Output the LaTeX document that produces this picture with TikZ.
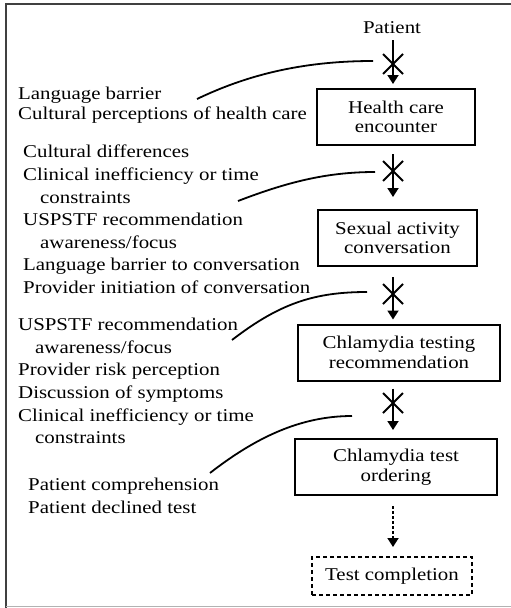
\documentclass[tikz,border=0pt]{standalone}
\usepackage{fontspec}
\setmainfont[FakeStretch=1.16]{Liberation Serif}
\usetikzlibrary{arrows.meta,calc}
\begin{document}
\begin{tikzpicture}[x=1pt,y=-1pt,
  txt/.style={font=\fontsize{18}{19.5}\selectfont},
  box/.style={draw, line width=2pt, align=center, inner sep=0pt, txt},
  lbl/.style={anchor=north west, align=left, inner sep=0pt, font=\fontsize{18}{22.6}\selectfont},
  flow/.style={line width=1.8pt, -{Triangle[length=9pt,width=11pt]}},
  crossline/.style={line width=1.8pt},
  link/.style={line width=1.8pt}]
\useasboundingbox (0,0) rectangle (511,608);
% frame
\draw[line width=1.5pt, black!75] (6,608) -- (6,4) -- (511,4);
\draw[line width=1pt, black!30] (6,606) -- (511,606);

% flow nodes
\node[txt, inner sep=0pt] (patient) at (392,28) {Patient};
\node[box, minimum width=158pt, minimum height=56pt] (b1) at (396,117) {Health care\\encounter};
\node[box, minimum width=159pt, minimum height=56pt] (b2) at (397.5,238) {Sexual activity\\conversation};
\node[box, minimum width=202pt, minimum height=56pt] (b3) at (399,352.5) {Chlamydia testing\\recommendation};
\node[box, minimum width=202pt, minimum height=56pt] (b4) at (396,467) {Chlamydia test\\ordering};
\node[box, dash pattern=on 4pt off 3pt, minimum width=160pt, minimum height=38pt] (b5) at (392,576) {Test completion};

% cross points
\coordinate (x1) at (393,64);
\coordinate (x2) at (393,171);
\coordinate (x3) at (393,294);
\coordinate (x4) at (393,403);

% arrows
\draw[flow, shorten <=6pt, shorten >=4pt] (x1 |- patient.south) -- (x1 |- b1.north);
\draw[flow, shorten <=8pt, shorten >=12pt] (x2 |- b1.south) -- (x2 |- b2.north);
\draw[flow, shorten <=10pt, shorten >=4pt] (x3 |- b2.south) -- (x3 |- b3.north);
\draw[flow, shorten <=7pt, shorten >=8pt] (x4 |- b3.south) -- (x4 |- b4.north);
\draw[flow, dash pattern=on 2.5pt off 2.5pt, shorten <=10pt, shorten >=9pt] (x4 |- b4.south) -- (x4 |- b5.north);

% crosses
\foreach \c in {x1,x2,x3,x4}{
  \draw[crossline] ($(\c)+(-10,-10)$) -- ($(\c)+(10,10)$);
  \draw[crossline] ($(\c)+(10,-10)$) -- ($(\c)+(-10,10)$);
}

% barrier labels
\node[lbl, font=\fontsize{18}{19.5}\selectfont] (g1) at (18,87) {Language barrier\\Cultural perceptions of health care};
\node[lbl] (g2) at (23,145) {Cultural differences\\Clinical inefficiency or time\\\hspace*{17pt}constraints\\USPSTF recommendation\\\hspace*{17pt}awareness/focus\\Language barrier to conversation\\Provider initiation of conversation};
\node[lbl] (g3) at (18,318) {USPSTF recommendation\\\hspace*{17pt}awareness/focus\\Provider risk perception\\Discussion of symptoms\\Clinical inefficiency or time\\\hspace*{17pt}constraints};
\node[lbl] (g4) at (28,478) {Patient comprehension\\Patient declined test};

% links
\coordinate (s1) at (197,99);  \coordinate (e1) at (373,61);
\coordinate (s2) at (238,201); \coordinate (e2) at (375,172);
\coordinate (s3) at (232,340); \coordinate (e3) at (367,292);
\coordinate (s4) at (210,473); \coordinate (e4) at (352,416);
\draw[link] (s1) .. controls (245,76) and (300,61) .. (e1);
\draw[link] (s2) .. controls (285,183) and (325,172) .. (e2);
\draw[link] (s3) .. controls (280,303) and (315,292) .. (e3);
\draw[link] (s4) .. controls (255,438) and (300,416) .. (e4);
\end{tikzpicture}
\end{document}
